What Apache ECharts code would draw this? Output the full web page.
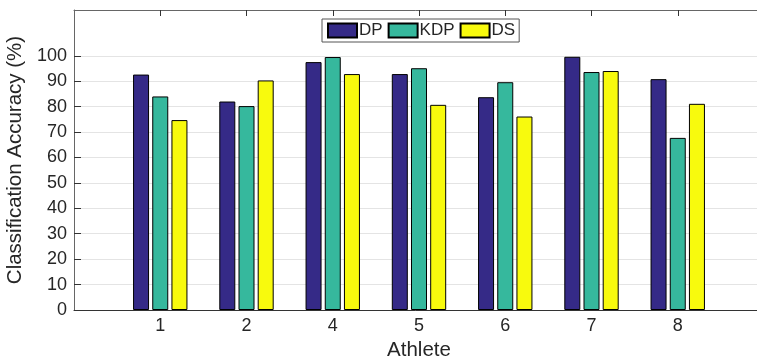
<!DOCTYPE html>
<html>
<head>
<meta charset="utf-8">
<script src="https://cdn.jsdelivr.net/npm/echarts@6/dist/echarts.min.js"></script>
<style>
html,body{margin:0;padding:0;background:#fff;overflow:hidden;}
#chart{width:757px;height:358px;}
</style>
</head>
<body>
<div id="chart"></div>
<script>
const athletes = ['1', '2', '4', '5', '6', '7', '8'];
const dpValues = [92.6, 82.0, 97.5, 92.8, 83.7, 99.6, 90.8];
const kdpValues = [84.0, 80.2, 99.5, 95.1, 89.6, 93.6, 67.7];
const dsValues = [74.7, 90.3, 92.8, 80.7, 76.1, 94.0, 81.1];
const yTicks = [0, 10, 20, 30, 40, 50, 60, 70, 80, 90, 100];

// padded category list so that athletes sit at 1..7 on a 0..8 range
const cats = [''].concat(athletes, ['']);
const pad = arr => [null].concat(arr);

const font = 'Liberation Sans, Arial, Helvetica, sans-serif';
const txt = '#262626';
const gridColors = yTicks.map(() => '#e4e4e4').concat(['rgba(0,0,0,0)', 'rgba(0,0,0,0)']);

const chart = echarts.init(document.getElementById('chart'), null, {renderer: 'canvas'});
chart.setOption({
  animation: false,
  backgroundColor: '#fff',
  textStyle: {fontFamily: font},
  grid: {left: 74, top: 10, bottom: 48, right: -7, containLabel: false, outerBoundsMode: 'none'},
  legend: {
    left: 322, top: 19,
    padding: [3, 4, 3, 5],
    icon: 'rect',
    itemWidth: 29, itemHeight: 14, itemGap: 5,
    backgroundColor: '#fff',
    borderColor: '#555', borderWidth: 1,
    textStyle: {fontFamily: font, fontSize: 17, color: txt, padding: [0, 0, 0, -3]},
    data: ['DP', 'KDP', 'DS']
  },
  xAxis: [{
    type: 'category',
    data: cats,
    boundaryGap: false,
    position: 'bottom',
    axisLine: {show: true, lineStyle: {color: '#333', width: 1}},
    axisTick: {show: true, inside: true, length: 6, lineStyle: {color: '#333'},
      interval: (i) => i > 0 && i < cats.length - 1},
    axisLabel: {color: txt, fontSize: 18, fontFamily: font, margin: 7, interval: 0},
    splitLine: {show: false},
    name: 'Athlete', nameLocation: 'middle', nameGap: 25,
    nameTextStyle: {color: txt, fontSize: 20.5, fontFamily: font}
  }, {
    type: 'category',
    data: cats,
    boundaryGap: false,
    position: 'top',
    axisLine: {show: true, lineStyle: {color: '#666', width: 1}},
    axisTick: {show: true, inside: true, length: 6, lineStyle: {color: '#333'},
      interval: (i) => i > 0 && i < cats.length - 1},
    axisLabel: {show: false},
    splitLine: {show: false}
  }],
  yAxis: {
    type: 'value',
    min: 0, max: 118, interval: 10,
    axisLine: {show: true, lineStyle: {color: '#666', width: 1}},
    axisTick: {show: true, inside: true, length: 7, lineStyle: {color: '#333'}, customValues: yTicks},
    axisLabel: {color: txt, fontSize: 18, fontFamily: font, margin: 7, customValues: yTicks},
    splitLine: {show: true, lineStyle: {color: gridColors, width: 1}},
    name: 'Classification Accuracy (%)', nameLocation: 'middle', nameGap: 42,
    nameTextStyle: {color: txt, fontSize: 20.5, fontFamily: font}
  },
  series: [
    {name: 'DP', type: 'bar', data: pad(dpValues), barWidth: 16, barGap: '20%', clip: true,
      itemStyle: {color: '#352a87', borderColor: '#000', borderWidth: 1}},
    {name: 'KDP', type: 'bar', data: pad(kdpValues), barWidth: 16, barGap: '20%', clip: true,
      itemStyle: {color: '#36b89d', borderColor: '#000', borderWidth: 1}},
    {name: 'DS', type: 'bar', data: pad(dsValues), barWidth: 16, barGap: '20%', clip: true,
      itemStyle: {color: '#f8fa0d', borderColor: '#000', borderWidth: 1}}
  ]
});
</script>
</body>
</html>
